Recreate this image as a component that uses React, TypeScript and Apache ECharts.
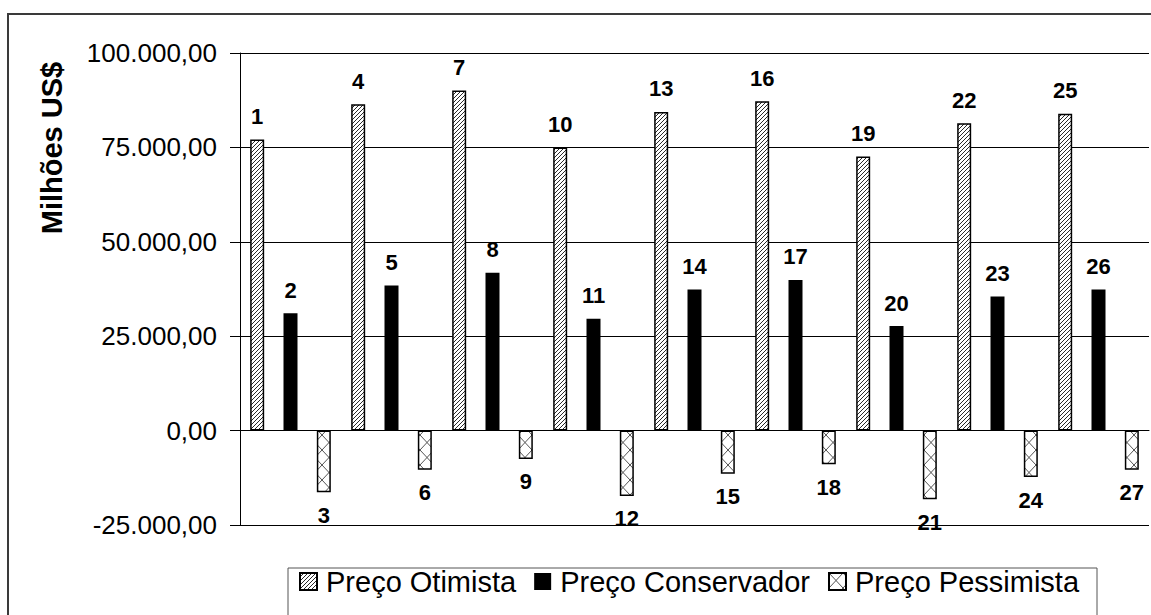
import React, { useEffect, useRef } from 'react';
import * as echarts from 'echarts';

// Cenários de preço (9 grupos), valores em milhões de US$
const cenarios = ['1', '2', '3', '4', '5', '6', '7', '8', '9'];
const seriesNames = ['Preço Otimista', 'Preço Conservador', 'Preço Pessimista'];
const otimista = [77100, 86400, 90100, 75000, 84400, 87200, 72600, 81400, 83900];
const conservador = [31100, 38400, 41800, 29600, 37400, 39900, 27700, 35500, 37400];
const pessimista = [-16300, -10400, -7500, -17300, -11400, -8900, -18200, -12300, -10400];
// Numeração de cada barra
const otimistaTags = [1, 4, 7, 10, 13, 16, 19, 22, 25];
const conservadorTags = [2, 5, 8, 11, 14, 17, 20, 23, 26];
const pessimistaTags = [3, 6, 9, 12, 15, 18, 21, 24, 27];
// Eixo Y
const yMin = -25000;
const yMax = 100000;
const yStep = 25000;
const yTitle = 'Milhões US$';

const FONT = '"Liberation Sans", Arial, sans-serif';

function formatBR(v: number): string {
  const neg = v < 0;
  const s = Math.abs(Math.round(v)).toString().replace(/\B(?=(\d{3})+(?!\d))/g, '.');
  return (neg ? '-' : '') + s + ',00';
}

function diagonalHatch(): HTMLCanvasElement {
  const c = document.createElement('canvas');
  c.width = 4;
  c.height = 4;
  const g = c.getContext('2d')!;
  g.fillStyle = '#ffffff';
  g.fillRect(0, 0, 4, 4);
  g.strokeStyle = '#2a2a2a';
  g.lineWidth = 1;
  g.beginPath();
  g.moveTo(0, 4); g.lineTo(4, 0);
  g.moveTo(-1, 1); g.lineTo(1, -1);
  g.moveTo(3, 5); g.lineTo(5, 3);
  g.stroke();
  return c;
}

function crossHatch(): HTMLCanvasElement {
  const w = 14, h = 15;
  const c = document.createElement('canvas');
  c.width = w;
  c.height = h;
  const g = c.getContext('2d')!;
  g.fillStyle = '#ffffff';
  g.fillRect(0, 0, w, h);
  g.strokeStyle = '#555555';
  g.lineWidth = 1;
  g.beginPath();
  g.moveTo(0, 0); g.lineTo(w, h);
  g.moveTo(w, 0); g.lineTo(0, h);
  g.stroke();
  return c;
}

export default function App() {
  const ref = useRef<HTMLDivElement>(null);

  useEffect(() => {
    document.body.style.margin = '0';
    if (!ref.current) return;
    const chart = echarts.init(ref.current, undefined, { renderer: 'svg' });
    const hatch = diagonalHatch();
    const cross = crossHatch();

    const labelBase = {
      show: true,
      fontSize: 22,
      fontWeight: 'bold' as const,
      color: '#000',
      fontFamily: FONT,
      distance: 12,
    };

    chart.setOption({
      animation: false,
      textStyle: { fontFamily: FONT },
      grid: { left: 240, right: 2, top: 53, bottom: 90, containLabel: false },
      legend: {
        data: seriesNames,
        left: 299,
        top: 567,
        padding: 0,
        itemGap: 18,
        itemWidth: 17,
        itemHeight: 17,
        icon: 'rect',
        textStyle: { fontSize: 29, color: '#000', fontFamily: FONT, padding: [0, 0, 20, 4] },
      },
      xAxis: {
        type: 'category',
        data: cenarios,
        axisLine: { show: true, onZero: true, lineStyle: { color: '#000', width: 1 } },
        axisTick: { show: false },
        axisLabel: { show: false },
        splitLine: { show: false },
      },
      yAxis: {
        type: 'value',
        min: yMin,
        max: yMax,
        interval: yStep,
        axisLine: { show: true, lineStyle: { color: '#000', width: 1 } },
        axisTick: { show: true, inside: false, length: 10, lineStyle: { color: '#000' } },
        axisLabel: { fontSize: 26, color: '#000', margin: 23, fontFamily: FONT, formatter: formatBR },
        splitLine: { show: true, lineStyle: { color: '#000', width: 1 } },
      },
      graphic: [
        {
          type: 'rect',
          shape: { x: 8, y: 14, width: 1160, height: 700 },
          style: { fill: 'none', stroke: '#3a3a3a', lineWidth: 2 },
          silent: true,
        },
        {
          type: 'rect',
          shape: { x: 288, y: 568, width: 809, height: 100 },
          style: { fill: 'none', stroke: '#555', lineWidth: 1 },
          silent: true,
        },
        {
          type: 'text',
          x: 52,
          y: 148,
          rotation: Math.PI / 2,
          style: {
            text: yTitle,
            fontSize: 29,
            fontWeight: 'bold',
            fontFamily: FONT,
            fill: '#000',
            textAlign: 'center',
            textVerticalAlign: 'middle',
          },
        },
      ],
      series: [
        {
          name: seriesNames[0],
          type: 'bar',
          data: otimista,
          barWidth: 14,
          barGap: '138%',
          itemStyle: { color: { image: hatch, repeat: 'repeat' }, borderColor: '#000', borderWidth: 1.5 },
          label: { ...labelBase, position: 'top', formatter: (p: any) => String(otimistaTags[p.dataIndex]) },
        },
        {
          name: seriesNames[1],
          type: 'bar',
          data: conservador,
          barWidth: 14,
          barGap: '138%',
          itemStyle: { color: '#000' },
          label: { ...labelBase, position: 'top', formatter: (p: any) => String(conservadorTags[p.dataIndex]) },
        },
        {
          name: seriesNames[2],
          type: 'bar',
          data: pessimista,
          barWidth: 14,
          barGap: '138%',
          itemStyle: { color: { image: cross, repeat: 'repeat' }, borderColor: '#000', borderWidth: 1.5 },
          label: { ...labelBase, position: 'bottom', formatter: (p: any) => String(pessimistaTags[p.dataIndex]) },
        },
      ],
    });

    // Anchor the cross-hatch tile to each bar so the X marks start at the bar's edge
    try {
      const sData = (chart as any).getModel().getSeriesByIndex(2).getData();
      const items = pessimista.map((v, i) => {
        const l = sData.getItemLayout(i);
        return {
          value: v,
          itemStyle: {
            color: { image: cross, repeat: 'repeat', x: l ? l.x : 0, y: l ? Math.min(l.y, l.y + l.height) : 0 },
          },
        };
      });
      chart.setOption({ series: [{}, {}, { data: items }] });
    } catch (e) {
      // keep the default tiling
    }

    return () => chart.dispose();
  }, []);

  return <div ref={ref} style={{ width: 1151, height: 615 }} />;
}
